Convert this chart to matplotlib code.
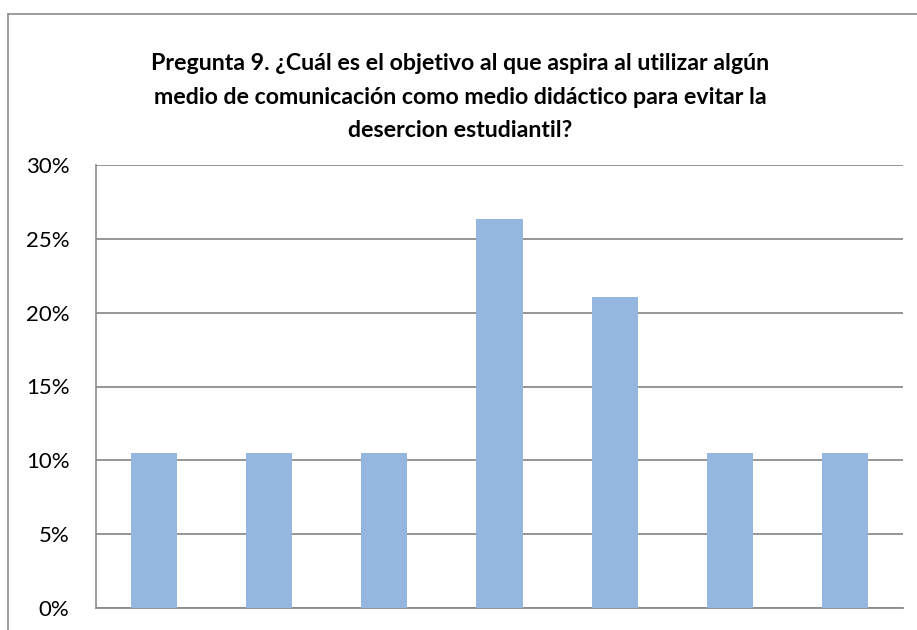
import matplotlib
matplotlib.use("Agg")
import matplotlib.pyplot as plt
from matplotlib.lines import Line2D
from matplotlib.ticker import FuncFormatter

categories = ["1", "2", "3", "4", "5", "6", "7"]
values = [10.53, 10.53, 10.53, 26.32, 21.05, 10.53, 10.53]
yticks = [0, 5, 10, 15, 20, 25, 30]
title = ("Pregunta 9. ¿Cuál es el objetivo al que aspira al utilizar algún\n"
         "medio de comunicación como medio didáctico para evitar la\n"
         "desercion estudiantil?")

plt.rcParams['font.family'] = ['Lato', 'DejaVu Sans']

W, H = 917, 630
fig = plt.figure(figsize=(W / 100, H / 100), dpi=100)
ax = fig.add_axes([96 / W, 1 - 608 / H, (903 - 96) / W, (608 - 165) / H])

x = range(len(categories))
ax.bar(x, values, width=0.4, color="#95b7df", zorder=3)
ax.set_xlim(-0.5, len(categories) - 0.5)
ax.set_ylim(0, 30)
ax.set_yticks(yticks)
ax.yaxis.set_major_formatter(FuncFormatter(lambda v, p: f"{v:.0f}%"))
ax.set_xticks([])
ax.tick_params(axis="y", length=0, labelsize=16, pad=19)
ax.grid(axis="y", color="#8c8c8c", linewidth=1.3, zorder=0)
for s in ["top", "right"]:
    ax.spines[s].set_visible(False)
ax.spines["left"].set_color("#8c8c8c")
ax.spines["bottom"].set_color("#8c8c8c")
ax.spines["left"].set_linewidth(1.2)
ax.spines["bottom"].set_linewidth(1.3)

fig.text(460 / W, 1 - 97 / H, title, ha="center", va="center",
         fontsize=16.7, fontweight="bold", linespacing=1.72)

# outer chart border (only left and top visible, picture is cropped)
bx, by = 8 / W, 1 - 14 / H
fig.add_artist(Line2D([bx, bx], [0, by], color="#8c8c8c", linewidth=1.2))
fig.add_artist(Line2D([bx, 1], [by, by], color="#8c8c8c", linewidth=1.2))

fig.savefig("out.png", dpi=100)
